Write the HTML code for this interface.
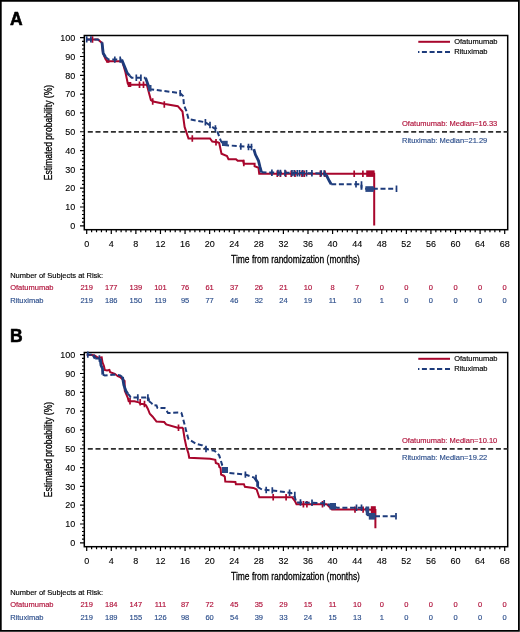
<!DOCTYPE html>
<html><head><meta charset="utf-8"><style>
html,body{margin:0;padding:0;background:#fff;}
svg{display:block;will-change:transform;}
text{font-family:"Liberation Sans",sans-serif;stroke-linejoin:round;}
</style></head><body>
<svg width="520" height="632" viewBox="0 0 520 632">
<rect x="0" y="0" width="520" height="632" fill="#fff"/>
<path d="M0.8 0.8H518.9V630.9H0.8Z" fill="none" stroke="#000" stroke-width="1.8"/>
<text x="10" y="25.3" font-family="Liberation Sans" font-weight="bold" font-size="17.5" fill="#000" stroke="#000" stroke-width="0.6">A</text>
<rect x="84.3" y="35.5" width="423.4" height="194.2" fill="none" stroke="#000" stroke-width="1.5"/>
<path d="M80.00 225.80H84.3 M82.00 222.04H84.3 M82.00 218.28H84.3 M82.00 214.51H84.3 M82.00 210.75H84.3 M80.00 206.99H84.3 M82.00 203.23H84.3 M82.00 199.47H84.3 M82.00 195.70H84.3 M82.00 191.94H84.3 M80.00 188.18H84.3 M82.00 184.42H84.3 M82.00 180.66H84.3 M82.00 176.89H84.3 M82.00 173.13H84.3 M80.00 169.37H84.3 M82.00 165.61H84.3 M82.00 161.85H84.3 M82.00 158.08H84.3 M82.00 154.32H84.3 M80.00 150.56H84.3 M82.00 146.80H84.3 M82.00 143.04H84.3 M82.00 139.27H84.3 M82.00 135.51H84.3 M80.00 131.75H84.3 M82.00 127.99H84.3 M82.00 124.23H84.3 M82.00 120.46H84.3 M82.00 116.70H84.3 M80.00 112.94H84.3 M82.00 109.18H84.3 M82.00 105.42H84.3 M82.00 101.65H84.3 M82.00 97.89H84.3 M80.00 94.13H84.3 M82.00 90.37H84.3 M82.00 86.61H84.3 M82.00 82.84H84.3 M82.00 79.08H84.3 M80.00 75.32H84.3 M82.00 71.56H84.3 M82.00 67.80H84.3 M82.00 64.03H84.3 M82.00 60.27H84.3 M80.00 56.51H84.3 M82.00 52.75H84.3 M82.00 48.99H84.3 M82.00 45.22H84.3 M82.00 41.46H84.3 M80.00 37.70H84.3 M86.70 229.7V234.00 M91.62 229.7V232.30 M96.54 229.7V232.30 M101.45 229.7V232.30 M106.37 229.7V232.30 M111.29 229.7V234.00 M116.21 229.7V232.30 M121.12 229.7V232.30 M126.04 229.7V232.30 M130.96 229.7V232.30 M135.88 229.7V234.00 M140.79 229.7V232.30 M145.71 229.7V232.30 M150.63 229.7V232.30 M155.55 229.7V232.30 M160.46 229.7V234.00 M165.38 229.7V232.30 M170.30 229.7V232.30 M175.22 229.7V232.30 M180.13 229.7V232.30 M185.05 229.7V234.00 M189.97 229.7V232.30 M194.89 229.7V232.30 M199.80 229.7V232.30 M204.72 229.7V232.30 M209.64 229.7V234.00 M214.56 229.7V232.30 M219.48 229.7V232.30 M224.39 229.7V232.30 M229.31 229.7V232.30 M234.23 229.7V234.00 M239.15 229.7V232.30 M244.06 229.7V232.30 M248.98 229.7V232.30 M253.90 229.7V232.30 M258.82 229.7V234.00 M263.73 229.7V232.30 M268.65 229.7V232.30 M273.57 229.7V232.30 M278.49 229.7V232.30 M283.40 229.7V234.00 M288.32 229.7V232.30 M293.24 229.7V232.30 M298.16 229.7V232.30 M303.07 229.7V232.30 M307.99 229.7V234.00 M312.91 229.7V232.30 M317.83 229.7V232.30 M322.74 229.7V232.30 M327.66 229.7V232.30 M332.58 229.7V234.00 M337.50 229.7V232.30 M342.42 229.7V232.30 M347.33 229.7V232.30 M352.25 229.7V232.30 M357.17 229.7V234.00 M362.09 229.7V232.30 M367.00 229.7V232.30 M371.92 229.7V232.30 M376.84 229.7V232.30 M381.76 229.7V234.00 M386.67 229.7V232.30 M391.59 229.7V232.30 M396.51 229.7V232.30 M401.43 229.7V232.30 M406.34 229.7V234.00 M411.26 229.7V232.30 M416.18 229.7V232.30 M421.10 229.7V232.30 M426.01 229.7V232.30 M430.93 229.7V234.00 M435.85 229.7V232.30 M440.77 229.7V232.30 M445.68 229.7V232.30 M450.60 229.7V232.30 M455.52 229.7V234.00 M460.44 229.7V232.30 M465.36 229.7V232.30 M470.27 229.7V232.30 M475.19 229.7V232.30 M480.11 229.7V234.00 M485.03 229.7V232.30 M489.94 229.7V232.30 M494.86 229.7V232.30 M499.78 229.7V232.30 M504.70 229.7V234.00" stroke="#000" stroke-width="1.2" fill="none"/>
<text x="75.2" y="229.00" text-anchor="end" font-size="9" fill="#000" stroke="#000" stroke-width="0.1">0</text>
<text x="75.2" y="210.19" text-anchor="end" font-size="9" fill="#000" stroke="#000" stroke-width="0.1">10</text>
<text x="75.2" y="191.38" text-anchor="end" font-size="9" fill="#000" stroke="#000" stroke-width="0.1">20</text>
<text x="75.2" y="172.57" text-anchor="end" font-size="9" fill="#000" stroke="#000" stroke-width="0.1">30</text>
<text x="75.2" y="153.76" text-anchor="end" font-size="9" fill="#000" stroke="#000" stroke-width="0.1">40</text>
<text x="75.2" y="134.95" text-anchor="end" font-size="9" fill="#000" stroke="#000" stroke-width="0.1">50</text>
<text x="75.2" y="116.14" text-anchor="end" font-size="9" fill="#000" stroke="#000" stroke-width="0.1">60</text>
<text x="75.2" y="97.33" text-anchor="end" font-size="9" fill="#000" stroke="#000" stroke-width="0.1">70</text>
<text x="75.2" y="78.52" text-anchor="end" font-size="9" fill="#000" stroke="#000" stroke-width="0.1">80</text>
<text x="75.2" y="59.71" text-anchor="end" font-size="9" fill="#000" stroke="#000" stroke-width="0.1">90</text>
<text x="75.2" y="40.90" text-anchor="end" font-size="9" fill="#000" stroke="#000" stroke-width="0.1">100</text>
<text x="86.70" y="246.60" text-anchor="middle" font-size="9" fill="#000" stroke="#000" stroke-width="0.1">0</text>
<text x="111.29" y="246.60" text-anchor="middle" font-size="9" fill="#000" stroke="#000" stroke-width="0.1">4</text>
<text x="135.88" y="246.60" text-anchor="middle" font-size="9" fill="#000" stroke="#000" stroke-width="0.1">8</text>
<text x="160.46" y="246.60" text-anchor="middle" font-size="9" fill="#000" stroke="#000" stroke-width="0.1">12</text>
<text x="185.05" y="246.60" text-anchor="middle" font-size="9" fill="#000" stroke="#000" stroke-width="0.1">16</text>
<text x="209.64" y="246.60" text-anchor="middle" font-size="9" fill="#000" stroke="#000" stroke-width="0.1">20</text>
<text x="234.23" y="246.60" text-anchor="middle" font-size="9" fill="#000" stroke="#000" stroke-width="0.1">24</text>
<text x="258.82" y="246.60" text-anchor="middle" font-size="9" fill="#000" stroke="#000" stroke-width="0.1">28</text>
<text x="283.40" y="246.60" text-anchor="middle" font-size="9" fill="#000" stroke="#000" stroke-width="0.1">32</text>
<text x="307.99" y="246.60" text-anchor="middle" font-size="9" fill="#000" stroke="#000" stroke-width="0.1">36</text>
<text x="332.58" y="246.60" text-anchor="middle" font-size="9" fill="#000" stroke="#000" stroke-width="0.1">40</text>
<text x="357.17" y="246.60" text-anchor="middle" font-size="9" fill="#000" stroke="#000" stroke-width="0.1">44</text>
<text x="381.76" y="246.60" text-anchor="middle" font-size="9" fill="#000" stroke="#000" stroke-width="0.1">48</text>
<text x="406.34" y="246.60" text-anchor="middle" font-size="9" fill="#000" stroke="#000" stroke-width="0.1">52</text>
<text x="430.93" y="246.60" text-anchor="middle" font-size="9" fill="#000" stroke="#000" stroke-width="0.1">56</text>
<text x="455.52" y="246.60" text-anchor="middle" font-size="9" fill="#000" stroke="#000" stroke-width="0.1">60</text>
<text x="480.11" y="246.60" text-anchor="middle" font-size="9" fill="#000" stroke="#000" stroke-width="0.1">64</text>
<text x="504.70" y="246.60" text-anchor="middle" font-size="9" fill="#000" stroke="#000" stroke-width="0.1">68</text>
<text transform="translate(52.2 132.5) rotate(-90) scale(0.78 1)" text-anchor="middle" font-size="11" fill="#000" stroke="#000" stroke-width="0.3">Estimated probability (%)</text>
<text transform="translate(295.5 263) scale(0.77 1)" text-anchor="middle" font-size="11" fill="#000" stroke="#000" stroke-width="0.3">Time from randomization (months)</text>
<path d="M87.8 131.9H507.7" stroke="#2e2e2e" stroke-width="1.6" stroke-dasharray="5 2.7" fill="none"/>
<text x="402" y="125.6" font-size="7.5" fill="#b0113a" stroke="#b0113a" stroke-width="0.15">Ofatumumab: Median=16.33</text>
<text x="402" y="142.7" font-size="7.5" fill="#2d4f8c" stroke="#2d4f8c" stroke-width="0.15">Rituximab: Median=21.29</text>
<path d="M418.3 41.8H450" stroke="#a8062c" stroke-width="2" fill="none"/>
<path d="M418 52.1H419.4M421.9 52.1H426.9M429.6 52.1H434.6M437 52.1H442.2M445 52.1H450" stroke="#1d3b7b" stroke-width="2" fill="none"/>
<text x="454.2" y="44.3" font-size="7.5" fill="#000" stroke="#000" stroke-width="0.15">Ofatumumab</text>
<text x="454.2" y="54.3" font-size="7.5" fill="#000" stroke="#000" stroke-width="0.15">Rituximab</text>
<polyline points="86.7,39.5 98.0,39.5 102.0,43.0 103.0,53.0 105.5,59.0 107.0,61.3 121.7,61.3 122.5,62.0 125.5,72.5 127.8,83.5 128.6,84.8 146.3,84.8 147.0,85.5 150.9,100.0 153.2,101.5 165.0,104.0 177.8,106.2 182.5,111.5 184.6,126.9 188.5,138.5 210.0,138.5 212.3,141.5 217.7,142.3 219.2,143.0 221.5,153.8 227.0,156.0 228.5,159.2 236.0,159.2 237.7,160.8 243.0,160.8 243.8,163.8 254.6,163.8 254.6,166.2 258.5,167.7 259.2,173.8 374.2,173.8 374.2,225.5" stroke="#a8062c" stroke-width="2" fill="none" stroke-linejoin="miter"/>
<path d="M92.5 36.3V42.7 M139.5 81.6V88.0 M143.5 81.6V88.0 M152.7 98.3V104.7 M164.3 101.3V107.7 M192.3 135.3V141.7 M216.0 139.1V145.5 M243.8 159.8V166.2 M277.3 170.6V177.0 M280.4 170.6V177.0 M285.8 170.6V177.0 M291.2 170.6V177.0 M295.0 170.6V177.0 M302.0 170.6V177.0 M304.2 170.6V177.0 M320.4 170.6V177.0 M325.0 170.6V177.0 M354.2 170.6V177.0 M362.9 170.6V177.0" stroke="#a8062c" stroke-width="1.7" fill="none"/>
<rect x="106.3" y="59.8" width="3.1000000000000085" height="3.0" fill="#a8062c"/>
<rect x="127.8" y="82" width="3.500000000000014" height="5" fill="#a8062c"/>
<rect x="366.2" y="170.4" width="8.400000000000034" height="6.5" fill="#a8062c"/>
<polyline points="86.7,39.4 97.8,39.4 102.0,42.5" stroke="#1d3b7b" stroke-width="2" fill="none" stroke-dasharray="5 2.7"/>
<polyline points="102.0,42.5 102.5,47.0 103.2,53.2 105.5,57.0" stroke="#1d3b7b" stroke-width="2.8" fill="none"/>
<polyline points="105.5,57.0 108.6,59.6 121.7,59.6" stroke="#1d3b7b" stroke-width="2" fill="none" stroke-dasharray="5 2.7"/>
<polyline points="121.7,59.6 127.0,72.5 129.4,75.5" stroke="#1d3b7b" stroke-width="2.8" fill="none"/>
<polyline points="129.4,75.5 131.7,77.8 145.5,77.8" stroke="#1d3b7b" stroke-width="2" fill="none" stroke-dasharray="5 2.7"/>
<polyline points="145.5,77.8 149.4,88.5" stroke="#1d3b7b" stroke-width="2.8" fill="none"/>
<polyline points="149.4,88.5 150.2,89.2 180.2,93.1 183.2,96.2 184.0,105.4 186.3,110.8 188.6,119.2 190.2,119.5 205.5,122.3 214.6,128.5 216.2,128.5 220.8,140.8 223.8,145.0 228.5,145.4 251.5,147.0 253.8,149.2" stroke="#1d3b7b" stroke-width="2" fill="none" stroke-dasharray="5 2.7"/>
<polyline points="253.8,149.2 255.4,154.6 258.5,160.8 260.0,166.9 261.5,172.3" stroke="#1d3b7b" stroke-width="2.8" fill="none"/>
<polyline points="261.5,172.3 325.4,173.5 326.3,175.0" stroke="#1d3b7b" stroke-width="2" fill="none" stroke-dasharray="5 2.7"/>
<polyline points="326.3,175.0 329.2,180.8 331.2,184.2" stroke="#1d3b7b" stroke-width="2.8" fill="none"/>
<polyline points="331.2,184.2 361.5,184.2 361.5,188.8 396.5,188.8" stroke="#1d3b7b" stroke-width="2" fill="none" stroke-dasharray="5 2.7"/>
<path d="M86.7 36.2V42.6 M90.9 36.2V42.6 M114.8 56.4V62.8 M120.2 56.4V62.8 M136.3 74.6V81.0 M140.9 74.6V81.0 M180.2 89.9V96.3 M205.4 119.1V125.5 M210.0 121.8V128.2 M215.4 125.3V131.7 M240.8 143.3V149.7 M248.5 143.8V150.2 M251.5 143.8V150.2 M271.9 169.6V176.0 M278.0 169.7V176.1 M280.4 169.8V176.2 M285.0 169.8V176.2 M292.0 169.9V176.3 M294.2 169.9V176.3 M297.3 170.0V176.4 M299.6 170.0V176.4 M302.7 170.0V176.4 M306.5 170.1V176.5 M311.9 170.1V176.5 M321.2 170.2V176.6 M324.2 170.2V176.6 M356.0 181.0V187.4 M361.5 181.3V187.7 M396.5 185.6V192.0" stroke="#1d3b7b" stroke-width="1.7" fill="none"/>
<rect x="148" y="85" width="3.5" height="6.5" fill="#2a4884"/>
<rect x="222" y="140.8" width="5.699999999999989" height="5.199999999999989" fill="#2a4884"/>
<rect x="365.4" y="186.2" width="8.400000000000034" height="5.700000000000017" fill="#2a4884"/>
<text x="10.2" y="277.5" font-size="7.5" fill="#000" stroke="#000" stroke-width="0.15">Number of Subjects at Risk:</text>
<text x="10.2" y="290.3" font-size="7.5" fill="#b0113a" stroke="#b0113a" stroke-width="0.15">Ofatumumab</text>
<text x="10.2" y="303.3" font-size="7.5" fill="#2d4f8c" stroke="#2d4f8c" stroke-width="0.15">Rituximab</text>
<text x="86.70" y="290.3" text-anchor="middle" font-size="7.5" fill="#b0113a" stroke="#b0113a" stroke-width="0.15">219</text>
<text x="86.70" y="303.3" text-anchor="middle" font-size="7.5" fill="#2d4f8c" stroke="#2d4f8c" stroke-width="0.15">219</text>
<text x="111.29" y="290.3" text-anchor="middle" font-size="7.5" fill="#b0113a" stroke="#b0113a" stroke-width="0.15">177</text>
<text x="111.29" y="303.3" text-anchor="middle" font-size="7.5" fill="#2d4f8c" stroke="#2d4f8c" stroke-width="0.15">186</text>
<text x="135.88" y="290.3" text-anchor="middle" font-size="7.5" fill="#b0113a" stroke="#b0113a" stroke-width="0.15">139</text>
<text x="135.88" y="303.3" text-anchor="middle" font-size="7.5" fill="#2d4f8c" stroke="#2d4f8c" stroke-width="0.15">150</text>
<text x="160.46" y="290.3" text-anchor="middle" font-size="7.5" fill="#b0113a" stroke="#b0113a" stroke-width="0.15">101</text>
<text x="160.46" y="303.3" text-anchor="middle" font-size="7.5" fill="#2d4f8c" stroke="#2d4f8c" stroke-width="0.15">119</text>
<text x="185.05" y="290.3" text-anchor="middle" font-size="7.5" fill="#b0113a" stroke="#b0113a" stroke-width="0.15">76</text>
<text x="185.05" y="303.3" text-anchor="middle" font-size="7.5" fill="#2d4f8c" stroke="#2d4f8c" stroke-width="0.15">95</text>
<text x="209.64" y="290.3" text-anchor="middle" font-size="7.5" fill="#b0113a" stroke="#b0113a" stroke-width="0.15">61</text>
<text x="209.64" y="303.3" text-anchor="middle" font-size="7.5" fill="#2d4f8c" stroke="#2d4f8c" stroke-width="0.15">77</text>
<text x="234.23" y="290.3" text-anchor="middle" font-size="7.5" fill="#b0113a" stroke="#b0113a" stroke-width="0.15">37</text>
<text x="234.23" y="303.3" text-anchor="middle" font-size="7.5" fill="#2d4f8c" stroke="#2d4f8c" stroke-width="0.15">46</text>
<text x="258.82" y="290.3" text-anchor="middle" font-size="7.5" fill="#b0113a" stroke="#b0113a" stroke-width="0.15">26</text>
<text x="258.82" y="303.3" text-anchor="middle" font-size="7.5" fill="#2d4f8c" stroke="#2d4f8c" stroke-width="0.15">32</text>
<text x="283.40" y="290.3" text-anchor="middle" font-size="7.5" fill="#b0113a" stroke="#b0113a" stroke-width="0.15">21</text>
<text x="283.40" y="303.3" text-anchor="middle" font-size="7.5" fill="#2d4f8c" stroke="#2d4f8c" stroke-width="0.15">24</text>
<text x="307.99" y="290.3" text-anchor="middle" font-size="7.5" fill="#b0113a" stroke="#b0113a" stroke-width="0.15">10</text>
<text x="307.99" y="303.3" text-anchor="middle" font-size="7.5" fill="#2d4f8c" stroke="#2d4f8c" stroke-width="0.15">19</text>
<text x="332.58" y="290.3" text-anchor="middle" font-size="7.5" fill="#b0113a" stroke="#b0113a" stroke-width="0.15">8</text>
<text x="332.58" y="303.3" text-anchor="middle" font-size="7.5" fill="#2d4f8c" stroke="#2d4f8c" stroke-width="0.15">11</text>
<text x="357.17" y="290.3" text-anchor="middle" font-size="7.5" fill="#b0113a" stroke="#b0113a" stroke-width="0.15">7</text>
<text x="357.17" y="303.3" text-anchor="middle" font-size="7.5" fill="#2d4f8c" stroke="#2d4f8c" stroke-width="0.15">10</text>
<text x="381.76" y="290.3" text-anchor="middle" font-size="7.5" fill="#b0113a" stroke="#b0113a" stroke-width="0.15">0</text>
<text x="381.76" y="303.3" text-anchor="middle" font-size="7.5" fill="#2d4f8c" stroke="#2d4f8c" stroke-width="0.15">1</text>
<text x="406.34" y="290.3" text-anchor="middle" font-size="7.5" fill="#b0113a" stroke="#b0113a" stroke-width="0.15">0</text>
<text x="406.34" y="303.3" text-anchor="middle" font-size="7.5" fill="#2d4f8c" stroke="#2d4f8c" stroke-width="0.15">0</text>
<text x="430.93" y="290.3" text-anchor="middle" font-size="7.5" fill="#b0113a" stroke="#b0113a" stroke-width="0.15">0</text>
<text x="430.93" y="303.3" text-anchor="middle" font-size="7.5" fill="#2d4f8c" stroke="#2d4f8c" stroke-width="0.15">0</text>
<text x="455.52" y="290.3" text-anchor="middle" font-size="7.5" fill="#b0113a" stroke="#b0113a" stroke-width="0.15">0</text>
<text x="455.52" y="303.3" text-anchor="middle" font-size="7.5" fill="#2d4f8c" stroke="#2d4f8c" stroke-width="0.15">0</text>
<text x="480.11" y="290.3" text-anchor="middle" font-size="7.5" fill="#b0113a" stroke="#b0113a" stroke-width="0.15">0</text>
<text x="480.11" y="303.3" text-anchor="middle" font-size="7.5" fill="#2d4f8c" stroke="#2d4f8c" stroke-width="0.15">0</text>
<text x="504.70" y="290.3" text-anchor="middle" font-size="7.5" fill="#b0113a" stroke="#b0113a" stroke-width="0.15">0</text>
<text x="504.70" y="303.3" text-anchor="middle" font-size="7.5" fill="#2d4f8c" stroke="#2d4f8c" stroke-width="0.15">0</text>
<text x="10" y="341.9" font-family="Liberation Sans" font-weight="bold" font-size="17.5" fill="#000" stroke="#000" stroke-width="0.6">B</text>
<rect x="84.3" y="352.5" width="423.4" height="194.2" fill="none" stroke="#000" stroke-width="1.5"/>
<path d="M80.00 542.80H84.3 M82.00 539.04H84.3 M82.00 535.28H84.3 M82.00 531.51H84.3 M82.00 527.75H84.3 M80.00 523.99H84.3 M82.00 520.23H84.3 M82.00 516.47H84.3 M82.00 512.70H84.3 M82.00 508.94H84.3 M80.00 505.18H84.3 M82.00 501.42H84.3 M82.00 497.66H84.3 M82.00 493.89H84.3 M82.00 490.13H84.3 M80.00 486.37H84.3 M82.00 482.61H84.3 M82.00 478.85H84.3 M82.00 475.08H84.3 M82.00 471.32H84.3 M80.00 467.56H84.3 M82.00 463.80H84.3 M82.00 460.04H84.3 M82.00 456.27H84.3 M82.00 452.51H84.3 M80.00 448.75H84.3 M82.00 444.99H84.3 M82.00 441.23H84.3 M82.00 437.46H84.3 M82.00 433.70H84.3 M80.00 429.94H84.3 M82.00 426.18H84.3 M82.00 422.42H84.3 M82.00 418.65H84.3 M82.00 414.89H84.3 M80.00 411.13H84.3 M82.00 407.37H84.3 M82.00 403.61H84.3 M82.00 399.84H84.3 M82.00 396.08H84.3 M80.00 392.32H84.3 M82.00 388.56H84.3 M82.00 384.80H84.3 M82.00 381.03H84.3 M82.00 377.27H84.3 M80.00 373.51H84.3 M82.00 369.75H84.3 M82.00 365.99H84.3 M82.00 362.22H84.3 M82.00 358.46H84.3 M80.00 354.70H84.3 M86.70 546.7V551.00 M91.62 546.7V549.30 M96.54 546.7V549.30 M101.45 546.7V549.30 M106.37 546.7V549.30 M111.29 546.7V551.00 M116.21 546.7V549.30 M121.12 546.7V549.30 M126.04 546.7V549.30 M130.96 546.7V549.30 M135.88 546.7V551.00 M140.79 546.7V549.30 M145.71 546.7V549.30 M150.63 546.7V549.30 M155.55 546.7V549.30 M160.46 546.7V551.00 M165.38 546.7V549.30 M170.30 546.7V549.30 M175.22 546.7V549.30 M180.13 546.7V549.30 M185.05 546.7V551.00 M189.97 546.7V549.30 M194.89 546.7V549.30 M199.80 546.7V549.30 M204.72 546.7V549.30 M209.64 546.7V551.00 M214.56 546.7V549.30 M219.48 546.7V549.30 M224.39 546.7V549.30 M229.31 546.7V549.30 M234.23 546.7V551.00 M239.15 546.7V549.30 M244.06 546.7V549.30 M248.98 546.7V549.30 M253.90 546.7V549.30 M258.82 546.7V551.00 M263.73 546.7V549.30 M268.65 546.7V549.30 M273.57 546.7V549.30 M278.49 546.7V549.30 M283.40 546.7V551.00 M288.32 546.7V549.30 M293.24 546.7V549.30 M298.16 546.7V549.30 M303.07 546.7V549.30 M307.99 546.7V551.00 M312.91 546.7V549.30 M317.83 546.7V549.30 M322.74 546.7V549.30 M327.66 546.7V549.30 M332.58 546.7V551.00 M337.50 546.7V549.30 M342.42 546.7V549.30 M347.33 546.7V549.30 M352.25 546.7V549.30 M357.17 546.7V551.00 M362.09 546.7V549.30 M367.00 546.7V549.30 M371.92 546.7V549.30 M376.84 546.7V549.30 M381.76 546.7V551.00 M386.67 546.7V549.30 M391.59 546.7V549.30 M396.51 546.7V549.30 M401.43 546.7V549.30 M406.34 546.7V551.00 M411.26 546.7V549.30 M416.18 546.7V549.30 M421.10 546.7V549.30 M426.01 546.7V549.30 M430.93 546.7V551.00 M435.85 546.7V549.30 M440.77 546.7V549.30 M445.68 546.7V549.30 M450.60 546.7V549.30 M455.52 546.7V551.00 M460.44 546.7V549.30 M465.36 546.7V549.30 M470.27 546.7V549.30 M475.19 546.7V549.30 M480.11 546.7V551.00 M485.03 546.7V549.30 M489.94 546.7V549.30 M494.86 546.7V549.30 M499.78 546.7V549.30 M504.70 546.7V551.00" stroke="#000" stroke-width="1.2" fill="none"/>
<text x="75.2" y="546.00" text-anchor="end" font-size="9" fill="#000" stroke="#000" stroke-width="0.1">0</text>
<text x="75.2" y="527.19" text-anchor="end" font-size="9" fill="#000" stroke="#000" stroke-width="0.1">10</text>
<text x="75.2" y="508.38" text-anchor="end" font-size="9" fill="#000" stroke="#000" stroke-width="0.1">20</text>
<text x="75.2" y="489.57" text-anchor="end" font-size="9" fill="#000" stroke="#000" stroke-width="0.1">30</text>
<text x="75.2" y="470.76" text-anchor="end" font-size="9" fill="#000" stroke="#000" stroke-width="0.1">40</text>
<text x="75.2" y="451.95" text-anchor="end" font-size="9" fill="#000" stroke="#000" stroke-width="0.1">50</text>
<text x="75.2" y="433.14" text-anchor="end" font-size="9" fill="#000" stroke="#000" stroke-width="0.1">60</text>
<text x="75.2" y="414.33" text-anchor="end" font-size="9" fill="#000" stroke="#000" stroke-width="0.1">70</text>
<text x="75.2" y="395.52" text-anchor="end" font-size="9" fill="#000" stroke="#000" stroke-width="0.1">80</text>
<text x="75.2" y="376.71" text-anchor="end" font-size="9" fill="#000" stroke="#000" stroke-width="0.1">90</text>
<text x="75.2" y="357.90" text-anchor="end" font-size="9" fill="#000" stroke="#000" stroke-width="0.1">100</text>
<text x="86.70" y="563.60" text-anchor="middle" font-size="9" fill="#000" stroke="#000" stroke-width="0.1">0</text>
<text x="111.29" y="563.60" text-anchor="middle" font-size="9" fill="#000" stroke="#000" stroke-width="0.1">4</text>
<text x="135.88" y="563.60" text-anchor="middle" font-size="9" fill="#000" stroke="#000" stroke-width="0.1">8</text>
<text x="160.46" y="563.60" text-anchor="middle" font-size="9" fill="#000" stroke="#000" stroke-width="0.1">12</text>
<text x="185.05" y="563.60" text-anchor="middle" font-size="9" fill="#000" stroke="#000" stroke-width="0.1">16</text>
<text x="209.64" y="563.60" text-anchor="middle" font-size="9" fill="#000" stroke="#000" stroke-width="0.1">20</text>
<text x="234.23" y="563.60" text-anchor="middle" font-size="9" fill="#000" stroke="#000" stroke-width="0.1">24</text>
<text x="258.82" y="563.60" text-anchor="middle" font-size="9" fill="#000" stroke="#000" stroke-width="0.1">28</text>
<text x="283.40" y="563.60" text-anchor="middle" font-size="9" fill="#000" stroke="#000" stroke-width="0.1">32</text>
<text x="307.99" y="563.60" text-anchor="middle" font-size="9" fill="#000" stroke="#000" stroke-width="0.1">36</text>
<text x="332.58" y="563.60" text-anchor="middle" font-size="9" fill="#000" stroke="#000" stroke-width="0.1">40</text>
<text x="357.17" y="563.60" text-anchor="middle" font-size="9" fill="#000" stroke="#000" stroke-width="0.1">44</text>
<text x="381.76" y="563.60" text-anchor="middle" font-size="9" fill="#000" stroke="#000" stroke-width="0.1">48</text>
<text x="406.34" y="563.60" text-anchor="middle" font-size="9" fill="#000" stroke="#000" stroke-width="0.1">52</text>
<text x="430.93" y="563.60" text-anchor="middle" font-size="9" fill="#000" stroke="#000" stroke-width="0.1">56</text>
<text x="455.52" y="563.60" text-anchor="middle" font-size="9" fill="#000" stroke="#000" stroke-width="0.1">60</text>
<text x="480.11" y="563.60" text-anchor="middle" font-size="9" fill="#000" stroke="#000" stroke-width="0.1">64</text>
<text x="504.70" y="563.60" text-anchor="middle" font-size="9" fill="#000" stroke="#000" stroke-width="0.1">68</text>
<text transform="translate(52.2 449.5) rotate(-90) scale(0.78 1)" text-anchor="middle" font-size="11" fill="#000" stroke="#000" stroke-width="0.3">Estimated probability (%)</text>
<text transform="translate(295.5 580) scale(0.77 1)" text-anchor="middle" font-size="11" fill="#000" stroke="#000" stroke-width="0.3">Time from randomization (months)</text>
<path d="M87.8 448.9H507.7" stroke="#2e2e2e" stroke-width="1.6" stroke-dasharray="5 2.7" fill="none"/>
<text x="402" y="442.6" font-size="7.5" fill="#b0113a" stroke="#b0113a" stroke-width="0.15">Ofatumumab: Median=10.10</text>
<text x="402" y="459.7" font-size="7.5" fill="#2d4f8c" stroke="#2d4f8c" stroke-width="0.15">Rituximab: Median=19.22</text>
<path d="M418.3 358.8H450" stroke="#a8062c" stroke-width="2" fill="none"/>
<path d="M418 369.1H419.4M421.9 369.1H426.9M429.6 369.1H434.6M437 369.1H442.2M445 369.1H450" stroke="#1d3b7b" stroke-width="2" fill="none"/>
<text x="454.2" y="361.3" font-size="7.5" fill="#000" stroke="#000" stroke-width="0.15">Ofatumumab</text>
<text x="454.2" y="371.3" font-size="7.5" fill="#000" stroke="#000" stroke-width="0.15">Rituximab</text>
<polyline points="86.7,355.0 92.0,355.0 94.5,355.5 97.8,357.7 101.7,357.3 102.5,362.3 104.0,366.2 104.8,370.0 107.0,370.4 109.4,370.0 110.2,372.3 114.8,373.8 117.8,376.2 120.0,377.0 124.6,381.0 124.8,390.8 127.7,397.5 128.7,401.3 134.4,401.3 138.8,402.3 140.7,404.0 143.0,404.0 146.0,405.2 147.9,409.0 149.8,413.8 152.7,416.7 154.6,419.1 156.5,421.5 164.2,422.0 166.2,424.4 177.7,427.7 182.3,427.7 183.0,428.5 184.6,438.5 186.2,446.2 188.5,453.8 189.2,457.7 210.0,458.8 215.3,459.8 215.8,463.0 218.5,464.0 219.5,467.2 220.6,467.8 221.1,474.6 223.8,475.7 224.8,476.7 225.3,481.5 235.4,482.0 235.9,484.2 243.9,484.2 244.9,486.8 253.4,487.9 256.6,489.4 259.3,497.3 292.2,497.3 294.8,500.8 296.5,504.2 326.8,504.2 331.1,508.5 332.0,509.6 365.2,509.6 375.4,510.0 375.4,528.3" stroke="#a8062c" stroke-width="2" fill="none" stroke-linejoin="miter"/>
<path d="M130.0 398.1V404.5 M140.2 399.1V405.5 M144.5 400.8V407.2 M178.5 424.5V430.9 M273.2 494.1V500.5 M286.1 494.1V500.5 M303.4 501.0V507.4 M306.9 501.0V507.4 M322.5 501.0V507.4 M355.0 506.4V512.8 M363.1 506.4V512.8" stroke="#a8062c" stroke-width="1.7" fill="none"/>
<rect x="370.8" y="506.2" width="5.0" height="7.300000000000011" fill="#a8062c"/>
<polyline points="86.7,354.6 92.0,354.6 93.2,355.0" stroke="#1d3b7b" stroke-width="2" fill="none" stroke-dasharray="5 2.7"/>
<polyline points="93.2,355.0 95.2,358.5" stroke="#1d3b7b" stroke-width="2.8" fill="none"/>
<polyline points="95.2,358.5 100.2,358.5" stroke="#1d3b7b" stroke-width="2" fill="none" stroke-dasharray="5 2.7"/>
<polyline points="100.2,358.5 101.0,365.4 102.5,368.5 102.8,374.6" stroke="#1d3b7b" stroke-width="2.8" fill="none"/>
<polyline points="102.8,374.6 104.8,375.5 110.2,375.0 114.8,374.6 120.2,375.4 122.5,377.0" stroke="#1d3b7b" stroke-width="2" fill="none" stroke-dasharray="5 2.7"/>
<polyline points="122.5,377.0 123.8,385.0 125.8,390.8 127.7,393.7" stroke="#1d3b7b" stroke-width="2.8" fill="none"/>
<polyline points="127.7,393.7 129.6,395.6 130.6,397.5 147.9,397.5" stroke="#1d3b7b" stroke-width="2" fill="none" stroke-dasharray="5 2.7"/>
<polyline points="147.9,397.5 148.8,400.9" stroke="#1d3b7b" stroke-width="2.8" fill="none"/>
<polyline points="148.8,400.9 151.7,403.3 152.7,405.2 156.5,405.5 157.5,408.0 164.5,408.0 165.2,408.5 168.0,413.0 180.8,412.5 181.5,413.0 183.0,418.5 184.6,424.6 186.9,433.8 188.5,439.2 196.2,443.8 202.3,445.4 206.9,449.2 214.6,450.8 219.2,455.4 222.3,465.4 228.5,473.0 245.4,474.6 254.6,477.7" stroke="#1d3b7b" stroke-width="2" fill="none" stroke-dasharray="5 2.7"/>
<polyline points="254.6,477.7 257.7,482.3 257.6,486.9" stroke="#1d3b7b" stroke-width="2.8" fill="none"/>
<polyline points="257.6,486.9 261.9,489.5 272.3,490.4 285.3,492.1 291.3,493.0 294.8,497.3 296.5,502.5 305.2,502.5 325.9,503.4 331.1,506.0 337.3,507.7 365.8,507.7 367.5,515.0 375.0,516.2 396.0,516.2" stroke="#1d3b7b" stroke-width="2" fill="none" stroke-dasharray="5 2.7"/>
<path d="M87.8 351.4V357.8 M99.4 355.3V361.7 M137.8 394.3V400.7 M147.9 394.3V400.7 M206.0 445.8V452.2 M245.4 471.4V477.8 M256.0 474.8V481.2 M266.2 486.8V493.2 M272.3 487.2V493.6 M289.6 489.6V496.0 M294.8 491.8V498.2 M300.5 499.3V505.7 M312.0 499.6V506.0 M324.2 500.0V506.4 M356.5 504.5V510.9 M361.5 504.5V510.9 M396.0 513.0V519.4" stroke="#1d3b7b" stroke-width="1.7" fill="none"/>
<rect x="222" y="467" width="6" height="6" fill="#2a4884"/>
<rect x="329.5" y="503" width="6.5" height="6.5" fill="#2a4884"/>
<rect x="365.8" y="506.5" width="3.3999999999999773" height="8.5" fill="#2a4884"/>
<rect x="368.8" y="513" width="6.599999999999966" height="6.600000000000023" fill="#2a4884"/>
<text x="10.2" y="594.5" font-size="7.5" fill="#000" stroke="#000" stroke-width="0.15">Number of Subjects at Risk:</text>
<text x="10.2" y="607.3" font-size="7.5" fill="#b0113a" stroke="#b0113a" stroke-width="0.15">Ofatumumab</text>
<text x="10.2" y="620.3" font-size="7.5" fill="#2d4f8c" stroke="#2d4f8c" stroke-width="0.15">Rituximab</text>
<text x="86.70" y="607.3" text-anchor="middle" font-size="7.5" fill="#b0113a" stroke="#b0113a" stroke-width="0.15">219</text>
<text x="86.70" y="620.3" text-anchor="middle" font-size="7.5" fill="#2d4f8c" stroke="#2d4f8c" stroke-width="0.15">219</text>
<text x="111.29" y="607.3" text-anchor="middle" font-size="7.5" fill="#b0113a" stroke="#b0113a" stroke-width="0.15">184</text>
<text x="111.29" y="620.3" text-anchor="middle" font-size="7.5" fill="#2d4f8c" stroke="#2d4f8c" stroke-width="0.15">189</text>
<text x="135.88" y="607.3" text-anchor="middle" font-size="7.5" fill="#b0113a" stroke="#b0113a" stroke-width="0.15">147</text>
<text x="135.88" y="620.3" text-anchor="middle" font-size="7.5" fill="#2d4f8c" stroke="#2d4f8c" stroke-width="0.15">155</text>
<text x="160.46" y="607.3" text-anchor="middle" font-size="7.5" fill="#b0113a" stroke="#b0113a" stroke-width="0.15">111</text>
<text x="160.46" y="620.3" text-anchor="middle" font-size="7.5" fill="#2d4f8c" stroke="#2d4f8c" stroke-width="0.15">126</text>
<text x="185.05" y="607.3" text-anchor="middle" font-size="7.5" fill="#b0113a" stroke="#b0113a" stroke-width="0.15">87</text>
<text x="185.05" y="620.3" text-anchor="middle" font-size="7.5" fill="#2d4f8c" stroke="#2d4f8c" stroke-width="0.15">98</text>
<text x="209.64" y="607.3" text-anchor="middle" font-size="7.5" fill="#b0113a" stroke="#b0113a" stroke-width="0.15">72</text>
<text x="209.64" y="620.3" text-anchor="middle" font-size="7.5" fill="#2d4f8c" stroke="#2d4f8c" stroke-width="0.15">60</text>
<text x="234.23" y="607.3" text-anchor="middle" font-size="7.5" fill="#b0113a" stroke="#b0113a" stroke-width="0.15">45</text>
<text x="234.23" y="620.3" text-anchor="middle" font-size="7.5" fill="#2d4f8c" stroke="#2d4f8c" stroke-width="0.15">54</text>
<text x="258.82" y="607.3" text-anchor="middle" font-size="7.5" fill="#b0113a" stroke="#b0113a" stroke-width="0.15">35</text>
<text x="258.82" y="620.3" text-anchor="middle" font-size="7.5" fill="#2d4f8c" stroke="#2d4f8c" stroke-width="0.15">39</text>
<text x="283.40" y="607.3" text-anchor="middle" font-size="7.5" fill="#b0113a" stroke="#b0113a" stroke-width="0.15">29</text>
<text x="283.40" y="620.3" text-anchor="middle" font-size="7.5" fill="#2d4f8c" stroke="#2d4f8c" stroke-width="0.15">33</text>
<text x="307.99" y="607.3" text-anchor="middle" font-size="7.5" fill="#b0113a" stroke="#b0113a" stroke-width="0.15">15</text>
<text x="307.99" y="620.3" text-anchor="middle" font-size="7.5" fill="#2d4f8c" stroke="#2d4f8c" stroke-width="0.15">24</text>
<text x="332.58" y="607.3" text-anchor="middle" font-size="7.5" fill="#b0113a" stroke="#b0113a" stroke-width="0.15">11</text>
<text x="332.58" y="620.3" text-anchor="middle" font-size="7.5" fill="#2d4f8c" stroke="#2d4f8c" stroke-width="0.15">15</text>
<text x="357.17" y="607.3" text-anchor="middle" font-size="7.5" fill="#b0113a" stroke="#b0113a" stroke-width="0.15">10</text>
<text x="357.17" y="620.3" text-anchor="middle" font-size="7.5" fill="#2d4f8c" stroke="#2d4f8c" stroke-width="0.15">13</text>
<text x="381.76" y="607.3" text-anchor="middle" font-size="7.5" fill="#b0113a" stroke="#b0113a" stroke-width="0.15">0</text>
<text x="381.76" y="620.3" text-anchor="middle" font-size="7.5" fill="#2d4f8c" stroke="#2d4f8c" stroke-width="0.15">1</text>
<text x="406.34" y="607.3" text-anchor="middle" font-size="7.5" fill="#b0113a" stroke="#b0113a" stroke-width="0.15">0</text>
<text x="406.34" y="620.3" text-anchor="middle" font-size="7.5" fill="#2d4f8c" stroke="#2d4f8c" stroke-width="0.15">0</text>
<text x="430.93" y="607.3" text-anchor="middle" font-size="7.5" fill="#b0113a" stroke="#b0113a" stroke-width="0.15">0</text>
<text x="430.93" y="620.3" text-anchor="middle" font-size="7.5" fill="#2d4f8c" stroke="#2d4f8c" stroke-width="0.15">0</text>
<text x="455.52" y="607.3" text-anchor="middle" font-size="7.5" fill="#b0113a" stroke="#b0113a" stroke-width="0.15">0</text>
<text x="455.52" y="620.3" text-anchor="middle" font-size="7.5" fill="#2d4f8c" stroke="#2d4f8c" stroke-width="0.15">0</text>
<text x="480.11" y="607.3" text-anchor="middle" font-size="7.5" fill="#b0113a" stroke="#b0113a" stroke-width="0.15">0</text>
<text x="480.11" y="620.3" text-anchor="middle" font-size="7.5" fill="#2d4f8c" stroke="#2d4f8c" stroke-width="0.15">0</text>
<text x="504.70" y="607.3" text-anchor="middle" font-size="7.5" fill="#b0113a" stroke="#b0113a" stroke-width="0.15">0</text>
<text x="504.70" y="620.3" text-anchor="middle" font-size="7.5" fill="#2d4f8c" stroke="#2d4f8c" stroke-width="0.15">0</text>
</svg></body></html>
